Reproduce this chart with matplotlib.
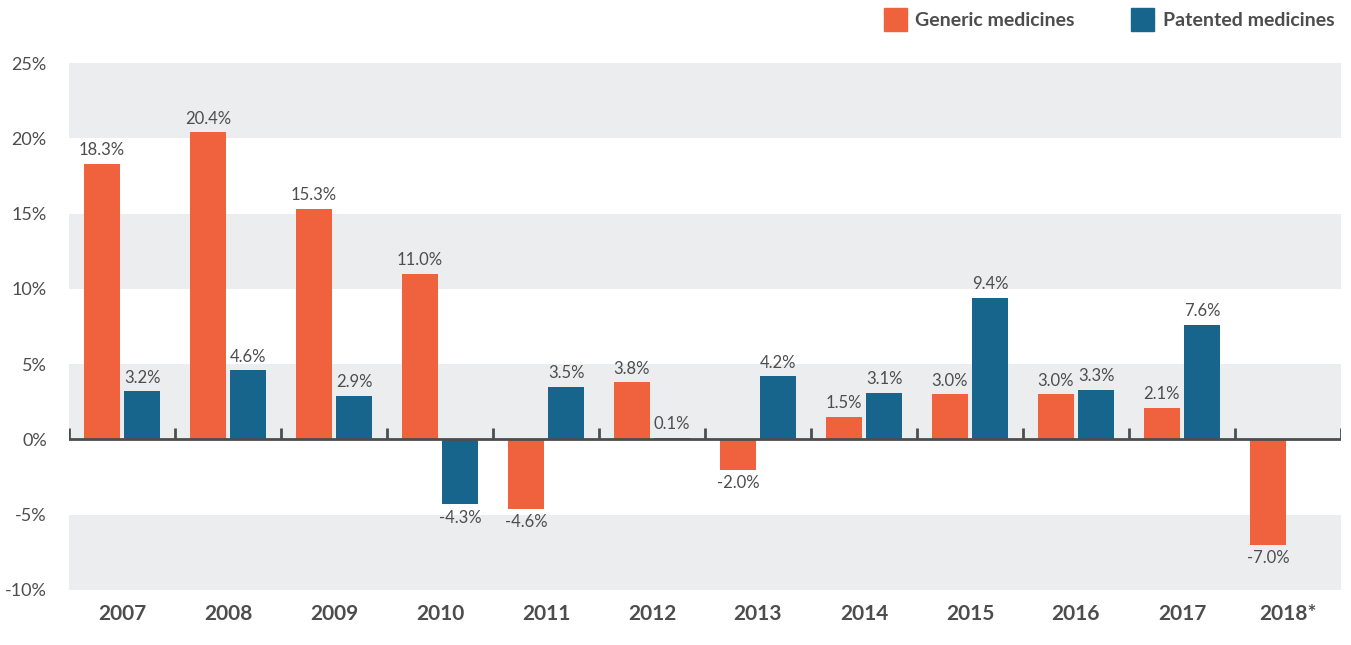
import matplotlib.pyplot as plt
import numpy as np

# data
years = ['2007', '2008', '2009', '2010', '2011', '2012', '2013', '2014', '2015', '2016', '2017', '2018*']
generic = [18.3, 20.4, 15.3, 11.0, -4.6, 3.8, -2.0, 1.5, 3.0, 3.0, 2.1, -7.0]
patented = [3.2, 4.6, 2.9, -4.3, 3.5, 0.1, 4.2, 3.1, 9.4, 3.3, 7.6, None]

orange = '#F0623D'
blue = '#17648C'
txt = '#4D4D4D'
band = '#ECEDEF'

plt.rcParams['font.family'] = ['Lato', 'DejaVu Sans']

fig = plt.figure(figsize=(13.51, 6.45), dpi=100)
ax = fig.add_axes([69/1351, 1 - 590/645, 1272/1351, 527/645])

n = len(years)
x = np.arange(n)
w = 0.34
gap = 0.04

# alternating background bands
for lo in [20, 10, 0, -10]:
    ax.axhspan(lo, lo + 5, color=band, zorder=0, lw=0)

for i in range(n):
    g = generic[i]
    ax.bar(x[i] - gap/2 - w/2, g, w, color=orange, zorder=2)
    off = 4 if g >= 0 else -4
    ax.annotate(f'{g:.1f}%', (x[i] - gap/2 - w/2, g), xytext=(0, off), textcoords='offset points',
                ha='center', va='bottom' if g >= 0 else 'top', fontsize=12, color=txt)
    p = patented[i]
    if p is not None:
        ax.bar(x[i] + gap/2 + w/2, p, w, color=blue, zorder=2)
        off = 4 if p >= 0 else -4
        ax.annotate(f'{p:.1f}%', (x[i] + gap/2 + w/2, p), xytext=(0, off), textcoords='offset points',
                    ha='center', va='bottom' if p >= 0 else 'top', fontsize=12, color=txt)

ax.set_xlim(-0.5, n - 0.5)
ax.set_ylim(-10, 25)

# zero axis line with short upward ticks at category borders
ax.axhline(0, color=txt, lw=2, zorder=3)
for b in np.arange(-0.5, n, 1.0):
    ax.plot([b, b], [0, 0.75], color=txt, lw=2, zorder=3, solid_capstyle='butt')

for s in ax.spines.values():
    s.set_visible(False)
ax.set_yticks(np.arange(-10, 26, 5))
ax.set_yticklabels([f'{v}%' for v in range(-10, 26, 5)], fontsize=13, color=txt)
ax.tick_params(axis='y', length=0, pad=16)
ax.set_xticks(x)
ax.set_xticklabels(years, fontsize=15, fontweight='bold', color=txt)
ax.tick_params(axis='x', length=0, pad=10)

# legend at the top right
fig.patches.append(plt.Rectangle((884/1351, 1 - 31/645), 23/1351, 23/645, color=orange, transform=fig.transFigure))
fig.text(915/1351, 1 - 21/645, 'Generic medicines', fontsize=14, fontweight='bold', color=txt, va='center')
fig.patches.append(plt.Rectangle((1131/1351, 1 - 31/645), 23/1351, 23/645, color=blue, transform=fig.transFigure))
fig.text(1163/1351, 1 - 21/645, 'Patented medicines', fontsize=14, fontweight='bold', color=txt, va='center')

fig.savefig('out.png', dpi=100)
